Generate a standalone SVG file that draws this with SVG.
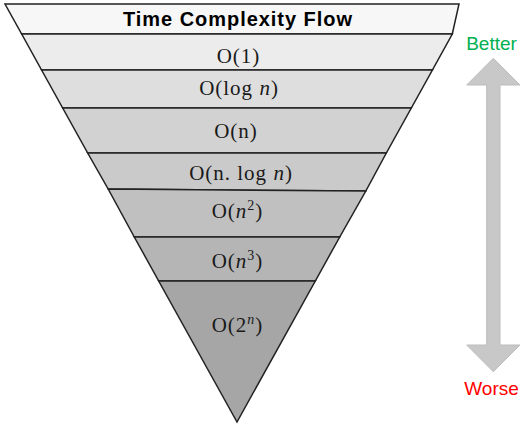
<svg xmlns="http://www.w3.org/2000/svg" width="525" height="429" viewBox="0 0 525 429">
  <style>
    .band { stroke: #222; stroke-width: 1.5; stroke-linejoin: miter; }
    .lbl { font-family: "Liberation Serif", "DejaVu Serif", serif; font-size: 21px; fill: #1a1a1a; text-anchor: middle; letter-spacing: 1px; }
    .it { font-style: italic; }
    .sup { font-size: 14px; }
    .title { font-family: "Liberation Sans", Arial, sans-serif; font-weight: bold; font-size: 20px; fill: #000; text-anchor: middle; }
    .side { font-family: "Liberation Sans", Arial, sans-serif; font-size: 19px; text-anchor: middle; }
  </style>
  <rect width="525" height="429" fill="#ffffff"/>

  <g id="band-title">
    <polygon class="band" fill="#f7f7f7" points="5,4 459,4 452.3,34 21.7,34"/>
    <text class="title" x="237.5" y="26" textLength="229" lengthAdjust="spacing">Time Complexity Flow</text>
  </g>
  <g id="band-o1">
    <polygon class="band" fill="#ececec" points="21.7,34 452.3,34 432.4,70 41.6,70"/>
    <text class="lbl" x="238.5" y="63">O(1)</text>
  </g>
  <g id="band-ologn">
    <polygon class="band" fill="#dedede" points="41.6,70 432.4,70 411.3,108 62.7,108"/>
    <text class="lbl" x="239" y="95">O(log <tspan class="it">n</tspan>)</text>
  </g>
  <g id="band-on">
    <polygon class="band" fill="#d2d2d2" points="62.7,108 411.3,108 386.3,153 87.7,153"/>
    <text class="lbl" x="236" y="138">O(n)</text>
  </g>
  <g id="band-onlogn">
    <polygon class="band" fill="#cacaca" points="87.7,153 386.3,153 365.8,191 108.2,189"/>
    <text class="lbl" x="241" y="180">O(n. log <tspan class="it">n</tspan>)</text>
  </g>
  <g id="band-on2">
    <polygon class="band" fill="#c0c0c0" points="108.2,189 365.8,191 339.7,237 134.3,237"/>
    <text class="lbl" x="237.5" y="218">O(<tspan class="it">n</tspan><tspan class="sup" dy="-8">2</tspan><tspan dy="8">)</tspan></text>
  </g>
  <g id="band-on3">
    <polygon class="band" fill="#b5b5b5" points="134.3,237 339.7,237 315.3,281 158.7,281"/>
    <text class="lbl" x="237.5" y="268">O(<tspan class="it">n</tspan><tspan class="sup" dy="-8">3</tspan><tspan dy="8">)</tspan></text>
  </g>
  <g id="band-o2n">
    <polygon class="band" fill="#a6a6a6" points="158.7,281 315.3,281 237,422"/>
    <text class="lbl" x="237.5" y="332">O(2<tspan class="sup it" dy="-8">n</tspan><tspan dy="8">)</tspan></text>
  </g>

  <g id="scale">
    <polygon fill="#c8c8c8" stroke="#bdbdbd" stroke-width="1" points="493.3,58.3 520,85 500,85 500,345 520,345 493.3,371.7 466.7,345 486.7,345 486.7,85 466.7,85"/>
    <text class="side" x="491.5" y="50" fill="#00b050">Better</text>
    <text class="side" x="491.5" y="395" fill="#ff0000">Worse</text>
  </g>
</svg>
